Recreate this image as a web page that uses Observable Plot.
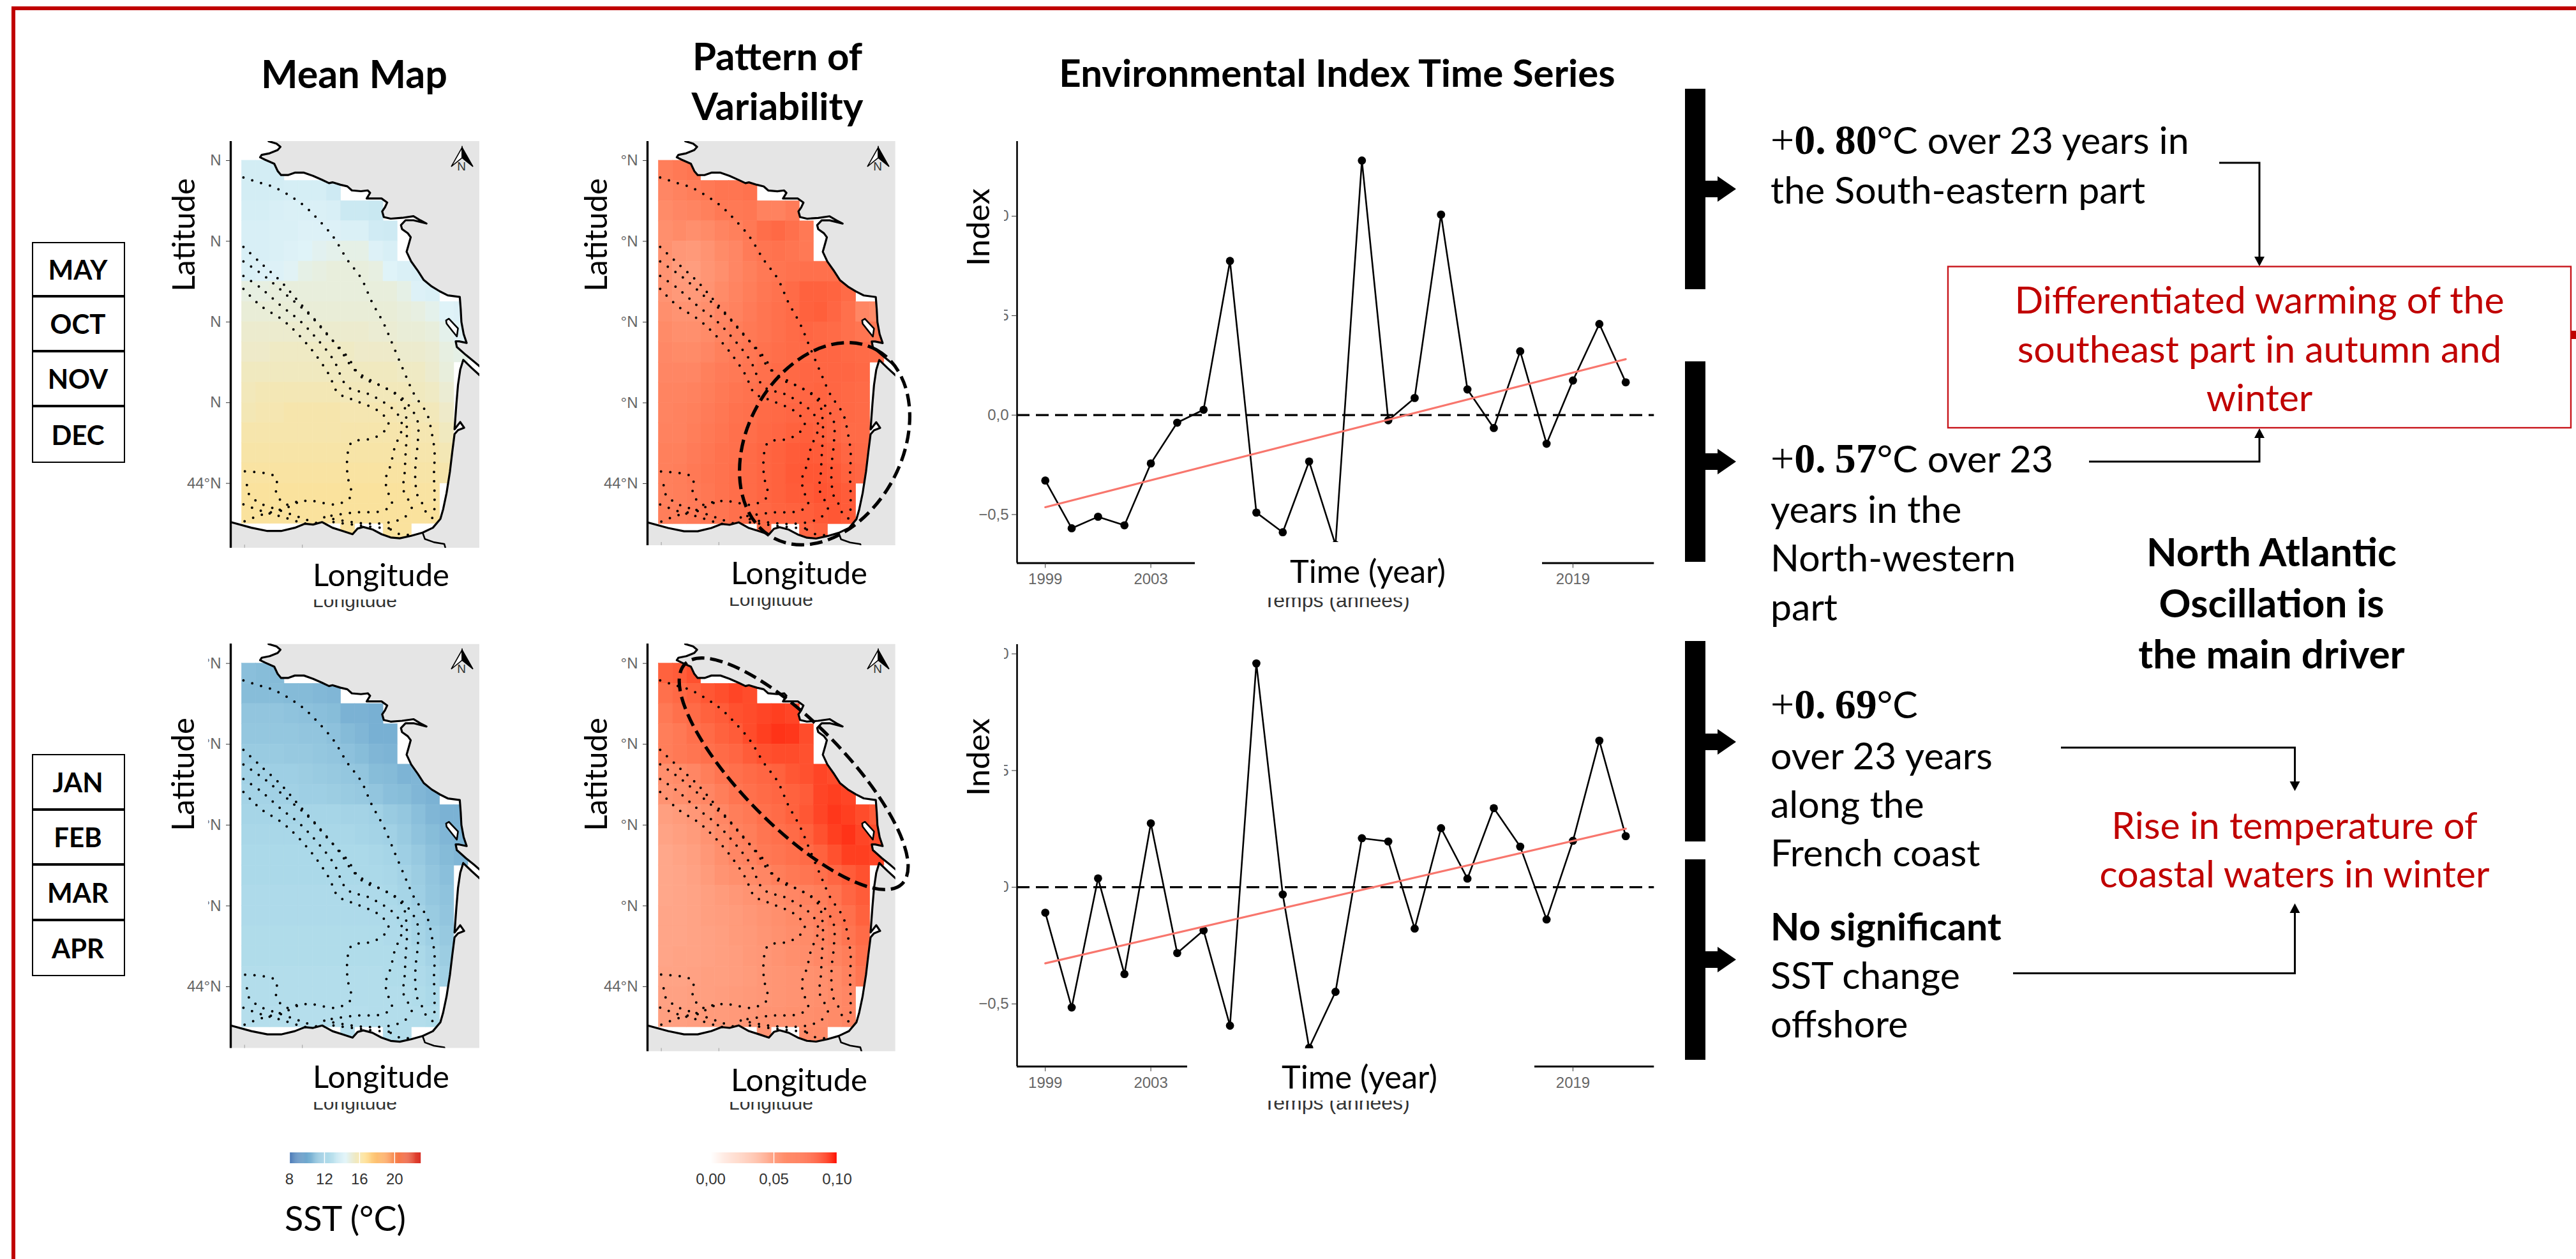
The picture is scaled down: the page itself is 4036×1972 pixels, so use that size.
<!DOCTYPE html>
<html><head><meta charset="utf-8">
<script src="https://cdn.jsdelivr.net/npm/d3@7"></script>
<script src="https://cdn.jsdelivr.net/npm/@observablehq/plot@0.6"></script>
<style>
html,body{margin:0;padding:0;background:#fff}
#page{position:relative;width:4036px;height:1972px;overflow:hidden;background:#fff;font-family:Lato,sans-serif;color:#000}
#page>svg{position:absolute;overflow:visible}
.t{position:absolute;white-space:nowrap;line-height:1}
.c{position:absolute;background:#fff}
</style></head><body><div id="page"></div>
<script>
// ---------- DATA ----------
const years=[1999,2000,2001,2002,2003,2004,2005,2006,2007,2008,2009,2010,2011,2012,2013,2014,2015,2016,2017,2018,2019,2020,2021];
const indexAutumn=[-0.329,-0.569,-0.511,-0.554,-0.243,-0.038,0.027,0.775,-0.490,-0.589,-0.233,-0.652,1.280,-0.026,0.086,1.008,0.129,-0.065,0.321,-0.144,0.174,0.458,0.165];
const indexWinter=[-0.109,-0.515,0.038,-0.372,0.274,-0.282,-0.185,-0.593,0.959,-0.031,-0.688,-0.448,0.210,0.196,-0.177,0.253,0.037,0.339,0.174,-0.138,0.199,0.628,0.219];
const trendYears=[1999,2021];
const trendAutumn=[-0.463,0.281];
const trendWinter=[-0.326,0.251];
const yearTicks=[1999,2003,2019];

const sstAutumn=[
[13.9,13.9,13.8],
[13.9,13.9,13.9,14,14,14,13.7],
[14,14,14.1,14.2,14.2,14.2,14.1,13.6,13.6,13.5],
[14.1,14.1,14.2,14.2,14.3,14.3,14.3,14.2,14.2,13.8,13.7],
[14.1,14.1,14.2,14.3,14.4,14.6,14.7,14.8,14.8,14.3,14.1],
[14.2,14.3,14.3,14.5,14.8,14.9,15,15,15,14.9,14.4,14.2,14.1],
[14.9,14.9,15,15,15,15,15,15,15,15,15,14.8,14.3,14.2],
[15.1,15.1,15.1,15.1,15.1,15.1,15.1,15.1,15.1,15.1,15.1,15,14.9,14.7,14.4,14.3],
[15.3,15.3,15.3,15.3,15.3,15.3,15.3,15.3,15.3,15.2,15.2,15.1,15.1,15,14.7,14.5],
[15.4,15.4,15.5,15.5,15.5,15.5,15.5,15.5,15.4,15.4,15.4,15.3,15.3,15.2,14.9,14.8],
[15.6,15.6,15.6,15.6,15.6,15.6,15.6,15.6,15.6,15.6,15.6,15.5,15.5,15.3,15],
[15.7,15.8,15.8,15.8,15.8,15.8,15.8,15.7,15.7,15.7,15.7,15.7,15.6,15.5,15.2],
[15.8,15.9,15.9,16,16,16,16,15.9,15.9,15.9,15.9,15.8,15.8,15.7,15.4],
[16,16,16,16,16,16,16,16,16,16,16,16,15.9,15.9,15.6],
[16.1,16.1,16.1,16.1,16.1,16.1,16.1,16.1,16.1,16.1,16.1,16.1,16,16,15.8],
[16.2,16.2,16.2,16.2,16.2,16.2,16.2,16.2,16.2,16.2,16.2,16.2,16.1,16.1,16],
[16.3,16.3,16.3,16.3,16.3,16.3,16.3,16.3,16.3,16.3,16.3,16.3,16.2,16.2],
[16.3,16.3,16.3,16.3,16.3,16.3,16.3,16.3,16.3,16.3,16.3,16.3,16.3,16.3],
[null,null,null,null,null,null,null,16.3,null,null,16.3,16.3]
];
const sstWinter=[
[11,10.9,10.8],
[10.9,10.9,10.9,10.8,10.8,10.7,10.6],
[11.3,11.3,11.3,11.2,11.1,11,10.9,10.4,10.4,10.3],
[11.4,11.4,11.4,11.4,11.3,11.3,11.1,10.8,10.6,10.3,10.3],
[11.6,11.6,11.6,11.5,11.5,11.4,11.3,11.1,10.9,10.6,10.5],
[11.9,11.9,11.8,11.8,11.7,11.6,11.5,11.4,11.3,10.9,10.8,10.5,10.6],
[12,12,11.9,11.9,11.8,11.8,11.7,11.6,11.5,11.3,11,10.9,10.6,10.4],
[12.1,12.1,12.1,12.1,12.1,12.1,12.1,12,12,11.9,11.6,11.4,11,10.6,10.4,10.4],
[12.2,12.2,12.2,12.2,12.2,12.2,12.2,12.2,12.1,12,11.9,11.6,11.2,10.9,10.6,10.5],
[12.3,12.3,12.3,12.3,12.3,12.3,12.3,12.3,12.3,12.2,12.1,11.8,11.5,11.1,10.8,10.6],
[12.3,12.3,12.3,12.3,12.3,12.3,12.3,12.3,12.3,12.3,12.2,12,11.7,11.3,11],
[12.4,12.4,12.4,12.4,12.4,12.4,12.4,12.4,12.4,12.4,12.3,12.1,11.8,11.4,11.2],
[12.4,12.4,12.4,12.4,12.4,12.4,12.4,12.4,12.4,12.4,12.4,12.3,12,11.6,11.3],
[12.5,12.5,12.5,12.5,12.5,12.5,12.5,12.5,12.5,12.5,12.4,12.4,12.1,11.8,11.5],
[12.5,12.5,12.5,12.5,12.5,12.5,12.5,12.5,12.5,12.5,12.5,12.4,12.3,12,11.7],
[12.6,12.6,12.6,12.6,12.6,12.6,12.6,12.6,12.6,12.6,12.5,12.5,12.4,12.2,11.9],
[12.6,12.6,12.6,12.6,12.6,12.6,12.6,12.6,12.6,12.6,12.6,12.6,12.5,12.3],
[12.7,12.7,12.7,12.7,12.7,12.7,12.7,12.7,12.7,12.6,12.6,12.6,12.6,12.5],
[null,null,null,null,null,null,null,12.7,null,null,12.6,12.6]
];
const varAutumn=[
[.066,.068,.070],
[.062,.064,.066,.068,.070,.070,.071],
[.060,.062,.063,.065,.068,.068,.069,.064,.064,.067],
[.058,.060,.058,.060,.063,.065,.068,.073,.075,.072,.068],
[.057,.054,.053,.056,.060,.062,.067,.070,.071,.070,.068],
[.056,.052,.051,.055,.058,.062,.065,.068,.070,.071,.072,.072,.072],
[.056,.053,.053,.056,.060,.063,.066,.069,.071,.074,.078,.078,.077,.074],
[.058,.056,.056,.058,.062,.064,.067,.070,.072,.074,.078,.079,.076,.072,.062,.060],
[.060,.058,.058,.060,.063,.066,.068,.070,.072,.074,.076,.075,.074,.072,.070,.068],
[.061,.060,.060,.062,.065,.067,.069,.071,.073,.074,.075,.076,.076,.075,.074,.074],
[.062,.062,.062,.065,.067,.068,.070,.072,.074,.075,.076,.076,.076,.076,.075],
[.063,.063,.064,.066,.068,.070,.071,.073,.074,.075,.076,.077,.076,.075,.074],
[.063,.064,.065,.067,.069,.071,.072,.074,.075,.076,.077,.077,.076,.075,.074],
[.064,.064,.066,.068,.070,.072,.073,.075,.076,.078,.079,.078,.076,.074,.074],
[.065,.065,.067,.069,.071,.072,.074,.076,.078,.080,.081,.080,.079,.076,.075],
[.065,.066,.068,.070,.071,.073,.074,.076,.078,.081,.082,.082,.081,.078,.076],
[.065,.066,.067,.069,.071,.073,.074,.076,.078,.080,.081,.083,.082,.080],
[.066,.066,.067,.069,.070,.072,.073,.075,.077,.078,.079,.081,.082,.080],
[null,null,null,null,null,null,null,.074,null,null,.076,.078]
];
const varWinter=[
[.078,.080,.084],
[.072,.075,.078,.082,.085,.088,.086],
[.068,.072,.074,.078,.080,.084,.086,.088,.090,.088],
[.066,.068,.072,.074,.078,.080,.086,.090,.093,.092,.086],
[.066,.068,.070,.072,.074,.076,.080,.084,.086,.086,.084],
[.058,.060,.062,.066,.070,.072,.074,.076,.078,.082,.084,.088,.086],
[.056,.058,.060,.062,.066,.070,.072,.074,.076,.078,.080,.088,.090,.088],
[.050,.052,.054,.058,.062,.066,.068,.072,.074,.078,.082,.088,.092,.090,.086,.080],
[.048,.050,.052,.056,.060,.064,.066,.070,.072,.074,.078,.084,.090,.093,.088,.086],
[.046,.048,.050,.054,.058,.062,.064,.068,.070,.072,.074,.078,.084,.090,.090,.088],
[.046,.047,.049,.052,.056,.058,.060,.062,.066,.068,.070,.072,.076,.080,.084],
[.046,.047,.048,.050,.052,.054,.056,.058,.060,.062,.064,.066,.070,.076,.080],
[.047,.047,.048,.050,.051,.052,.054,.056,.058,.060,.062,.064,.068,.072,.078],
[.047,.047,.048,.049,.050,.052,.053,.055,.057,.059,.060,.063,.065,.070,.074],
[.047,.048,.048,.049,.050,.051,.053,.054,.056,.058,.059,.061,.063,.066,.072],
[.048,.048,.049,.050,.050,.051,.052,.054,.055,.056,.057,.058,.060,.064,.070],
[.049,.049,.050,.050,.051,.052,.053,.054,.055,.056,.057,.058,.060,.062],
[.050,.050,.051,.052,.052,.053,.054,.056,.056,.057,.058,.059,.060,.062],
[null,null,null,null,null,null,null,.056,null,null,.060,.060]
];
const cellLonStart=-5.047, cellLonStep=0.245, cellLatStart=48, cellLatStep=0.25;

const northCoast=[[-4.585,48.24],[-4.447,48.21],[-4.379,48.17],[-4.427,48.13],[-4.565,48.09],[-4.704,48.07],[-4.731,48.04],[-4.644,48.01],[-4.486,47.96],[-4.427,47.87],[-4.368,47.82],[-4.249,47.82],[-4.13,47.85],[-3.972,47.85],[-3.814,47.81],[-3.656,47.76],[-3.538,47.72],[-3.478,47.73],[-3.34,47.70],[-3.221,47.68],[-3.142,47.63],[-2.984,47.62],[-2.866,47.63],[-2.826,47.60],[-2.885,47.53],[-2.787,47.53],[-2.628,47.53],[-2.53,47.48],[-2.569,47.42],[-2.617,47.37],[-2.589,47.30],[-2.47,47.28],[-2.273,47.29],[-2.075,47.31],[-1.957,47.26],[-1.85,47.22],[-2.075,47.26],[-2.213,47.26],[-2.292,47.20],[-2.273,47.15],[-2.174,47.10],[-2.123,47.05],[-2.154,46.97],[-2.194,46.87],[-2.115,46.75],[-1.996,46.63],[-1.897,46.52],[-1.759,46.44],[-1.621,46.38],[-1.482,46.33],[-1.273,46.31],[-1.257,46.16],[-1.245,46.00],[-1.206,45.85],[-1.154,45.74],[-1.285,45.76],[-1.344,45.76],[-1.324,45.69],[-1.166,45.59],[-1.028,45.51],[-0.929,45.45]];
const southCoast=[[-0.929,45.34],[-1.067,45.43],[-1.213,45.53],[-1.265,45.41],[-1.304,45.22],[-1.332,44.98],[-1.364,44.67],[-1.265,44.76],[-1.198,44.69],[-1.304,44.66],[-1.364,44.61],[-1.403,44.39],[-1.443,44.15],[-1.502,43.88],[-1.561,43.68],[-1.609,43.56],[-1.739,43.45],[-1.917,43.39],[-2.115,43.35],[-2.312,43.32],[-2.47,43.33],[-2.628,43.37],[-2.787,43.43],[-2.945,43.46],[-3.043,43.44],[-3.13,43.37],[-3.30,43.41],[-3.478,43.45],[-3.656,43.52],[-3.814,43.49],[-3.953,43.50],[-4.13,43.45],[-4.368,43.41],[-4.605,43.41],[-4.881,43.45],[-5.24,43.52]];
const northLandClosure=[[-0.929,48.24]];
const southLandClosure=[[-5.24,43.19],[-0.929,43.19]];
const border=[[-1.917,43.39],[-1.877,43.31],[-1.719,43.27],[-1.542,43.25],[-1.522,43.2]];
const island=[[-1.51,46.02],[-1.462,46.04],[-1.304,45.92],[-1.324,45.82],[-1.403,45.89],[-1.502,45.98],[-1.51,46.02]];
const isobaths=[
[[-5.02,47.79],[-4.76,47.73],[-4.49,47.67],[-4.21,47.56],[-3.97,47.44],[-3.74,47.28],[-3.46,47.05],[-3.22,46.77],[-2.98,46.54],[-2.79,46.24],[-2.59,45.98],[-2.43,45.71],[-2.23,45.37],[-2.06,45.10],[-1.84,44.86],[-1.76,44.63],[-1.71,44.39],[-1.72,44.11],[-1.71,43.84],[-1.72,43.64],[-1.78,43.52]],
[[-5.02,46.93],[-4.72,46.73],[-4.37,46.50],[-4.05,46.24],[-3.70,45.96],[-3.34,45.65],[-3.10,45.41],[-2.67,45.22],[-2.31,45.08],[-2.11,44.92],[-2.00,44.76],[-2.00,44.51],[-2.04,44.23],[-2.04,44.00],[-2.00,43.84],[-1.88,43.70],[-1.86,43.60]],
[[-5.02,46.75],[-4.64,46.56],[-4.25,46.32],[-3.89,46.10],[-3.58,45.85],[-3.22,45.57],[-2.98,45.32],[-2.55,45.18],[-2.27,45.02],[-2.19,44.69],[-2.21,44.39],[-2.23,44.11],[-2.25,43.92],[-2.11,43.72],[-2.11,43.64]],
[[-5.02,46.57],[-4.72,46.42],[-4.37,46.20],[-4.05,46.02],[-3.77,45.81],[-3.46,45.53],[-3.22,45.20],[-2.83,45.10],[-2.43,44.92],[-2.29,44.78],[-2.29,44.63],[-2.39,44.47],[-2.47,44.23],[-2.56,44.04],[-2.51,43.88],[-2.45,43.74],[-2.61,43.66],[-3.10,43.64],[-3.58,43.59]],
[[-5.02,46.41],[-4.72,46.20],[-4.37,46.04],[-4.13,45.89],[-3.81,45.63],[-3.54,45.35],[-3.38,45.12],[-3.06,45.02],[-2.69,44.90],[-2.51,44.76],[-2.55,44.67],[-2.77,44.56],[-3.14,44.51],[-3.21,44.39],[-3.22,44.11],[-3.16,43.84],[-3.42,43.74],[-3.81,43.78],[-4.05,43.78],[-4.29,43.74],[-4.45,43.88],[-4.45,44.07],[-4.60,44.12],[-5.02,44.15]],
[[-4.96,43.98],[-4.92,43.86],[-4.72,43.75],[-4.45,43.68],[-4.13,43.60],[-3.89,43.54],[-3.62,43.48]],
[[-5.02,43.74],[-4.72,43.66],[-4.37,43.59],[-4.05,43.52],[-3.81,43.48]],
[[-5.00,43.53],[-4.75,43.60],[-4.45,43.66],[-4.2,43.72],[-4.05,43.78]],
[[-3.62,43.58],[-3.14,43.52],[-2.75,43.50],[-2.35,43.54],[-2.11,43.64]],
[[-3.46,43.52],[-3.02,43.48],[-2.63,43.45],[-2.39,43.44]],
[[-2.47,43.43],[-2.27,43.36],[-2.11,43.37]]
];
const latTicks=[44,45,46,47,48];
const lonTicks=[-5,-4];
const sstTicks=[8,12,16,20];
const varTicks=[0,0.05,0.1];
const sstStops=[8,10.14,12.29,14.43,16.57,18.71,20.86,23];
const sstColors=["#4575b4","#74add1","#abd9e9","#e0f3f8","#fee090","#fdae61","#f46d43","#d73027"];
const monthsAutumn=["MAY","OCT","NOV","DEC"];
const monthsWinter=["JAN","FEB","MAR","APR"];

// ---------- HELPERS ----------
const page=document.getElementById("page");
const comma=(f)=>(d)=>d3.format(f)(d).replace(".",",");
function put(svg,x,y){svg.style.left=x+"px";svg.style.top=y+"px";svg.style.background="transparent";page.appendChild(svg);return svg;}
function T(html,x,y,o={}){
  const d=document.createElement("div");d.className="t";d.innerHTML=html;
  const a=o.anchor||"middle";
  d.style.left=x+"px";d.style.top=y+"px";
  d.style.fontSize=(o.size||48)+"px";
  if(o.bold)d.style.fontWeight="700";
  if(o.color)d.style.color=o.color;
  if(o.font)d.style.fontFamily=o.font;
  const tx=a==="middle"?"-50%":"0";
  d.style.transform=`translate(${tx},-50%)`+(o.rotate?` rotate(${o.rotate}deg)`:"")+(o.sx?` scaleX(${o.sx})`:"");
  page.appendChild(d);return d;
}
function cover(x,y,w,h){const d=document.createElement("div");d.className="c";
  d.style.cssText+=`left:${x}px;top:${y}px;width:${w}px;height:${h}px`;page.appendChild(d);}
const pts=(a)=>a.map(([lon,lat])=>({lon,lat}));

function mapPanel(f){
  const ml=110,mt=10,mr=6,mb=6;
  const cells=[];
  f.values.forEach((row,r)=>row.forEach((v,c)=>{ if(v!==null) cells.push({
    x1:cellLonStart+c*cellLonStep,x2:cellLonStart+(c+1)*cellLonStep,
    y1:cellLatStart-r*cellLatStep,y2:cellLatStart-(r+1)*cellLatStep,v});}));
  const common={x:"lon",y:"lat",clip:true};
  const svg=Plot.plot({
    width:f.w+ml+mr,height:f.h+mt+mb,marginLeft:ml,marginTop:mt,marginRight:mr,marginBottom:mb,
    style:{fontFamily:"Liberation Sans",background:"transparent"},
    x:{domain:[-5.24,-0.929],axis:null},
    y:{domain:f.yDomain,axis:null},
    color:f.color,
    marks:[
      Plot.rect(cells,{x1:"x1",x2:"x2",y1:"y1",y2:"y2",fill:"v",stroke:"v",strokeWidth:0.6,clip:true}),
      Plot.line(pts([...northCoast,...northLandClosure,northCoast[0]]),{...common,fill:"#e5e5e5",stroke:"none"}),
      Plot.line(pts([...southCoast,...southLandClosure,southCoast[0]]),{...common,fill:"#e5e5e5",stroke:"none"}),
      Plot.line(pts(northCoast),{...common,stroke:"#000",strokeWidth:3.2}),
      Plot.line(pts(southCoast),{...common,stroke:"#000",strokeWidth:3.2}),
      Plot.line(pts(border),{...common,stroke:"#000",strokeWidth:2.6}),
      Plot.line(pts(island),{...common,fill:"#fff",stroke:"#000",strokeWidth:2.6}),
      ...isobaths.map(iso=>Plot.line(pts(iso),{...common,stroke:"#000",strokeWidth:4,strokeDasharray:"0 14.5",strokeLinecap:"round",curve:"catmull-rom"})),
      Plot.ruleX(lonTicks,{y1:f.yDomain[0],y2:f.yDomain[0]+0.04,stroke:"#aaa",strokeWidth:1.2}),
      Plot.ruleX([-5.24],{stroke:"#000",strokeWidth:3.4}),
      Plot.axisY({ticks:latTicks,tickFormat:d=>d+"°N",tickSize:7,tickPadding:8,fontSize:24,label:null,anchor:"left",stroke:"#333",fill:"#666"})
    ]
  });
  put(svg,f.x-ml,f.y-mt);
}
function seriesPanel(f){
  const ml=110,mt=6,mr=4,mb=44;
  const data=years.map((year,i)=>({year,value:f.values[i]}));
  const trend=trendYears.map((year,i)=>({year,value:f.trend[i]}));
  const svg=Plot.plot({
    width:f.w+ml+mr,height:f.h+mt+mb,marginLeft:ml,marginTop:mt,marginRight:mr,marginBottom:mb,
    style:{fontFamily:"Liberation Sans",background:"transparent"},
    x:{domain:[1997.93,2022.08],axis:null},
    y:{domain:f.yDomain,axis:null},
    marks:[
      Plot.ruleY([0],{stroke:"#000",strokeWidth:3.2,strokeDasharray:"20 10"}),
      Plot.line(data,{x:"year",y:"value",stroke:"#000",strokeWidth:2.6}),
      Plot.dot(data,{x:"year",y:"value",r:6.4,fill:"#000"}),
      Plot.line(trend,{x:"year",y:"value",stroke:"#f8766d",strokeWidth:3.2}),
      Plot.ruleX([1997.93],{stroke:"#000",strokeWidth:2.6}),
      Plot.ruleY([f.yDomain[0]],{stroke:"#000",strokeWidth:3}),
      Plot.axisY({ticks:[-0.5,0,0.5,1],tickFormat:comma(".1f"),tickSize:8,tickPadding:5,fontSize:24,label:null,anchor:"left",stroke:"#333",fill:"#666"}),
      Plot.axisX({ticks:yearTicks,tickFormat:String,tickSize:8,tickPadding:8,fontSize:24,label:null,anchor:"bottom",stroke:"#333",fill:"#666"})
    ]
  });
  put(svg,f.x-ml,f.y-mt);
}
function legendBar(f){
  const ml=40,mr=40,mt=2,mb=44;
  const step=(f.domain[1]-f.domain[0])/200;
  const ramp=d3.range(f.domain[0],f.domain[1],step);
  const svg=Plot.plot({
    width:f.w+ml+mr,height:f.h+mt+mb,marginLeft:ml,marginRight:mr,marginTop:mt,marginBottom:mb,
    style:{fontFamily:"Liberation Sans",background:"transparent"},
    x:{domain:f.domain,axis:null},
    y:{domain:[0,1],axis:null},
    color:f.color,
    marks:[
      Plot.rect(ramp,{x1:d=>d,x2:d=>d+step*1.2,y1:0,y2:1,fill:d=>d}),
      Plot.ruleX(f.ticks,{stroke:"#fff",strokeWidth:1.4}),
      Plot.axisX({ticks:f.ticks,tickFormat:f.format,tickSize:0,tickPadding:15,fontSize:24,label:null,anchor:"bottom",fill:"#333"})
    ]
  });
  put(svg,f.x-ml,f.y-mt);
}

// ---------- CHARTS ----------
const sstScale={type:"linear",domain:sstStops,range:sstColors};
const varScale={type:"linear",domain:[0,0.1],range:["#ffffff","#ff0000"],interpolate:"lab"};
mapPanel({x:361,y:221,w:390,h:637,yDomain:[43.198,48.237],values:sstAutumn,color:sstScale});
mapPanel({x:1014,y:221,w:388.7,h:633,yDomain:[43.233,48.237],values:varAutumn,color:varScale});
mapPanel({x:361,y:1008,w:390,h:633.6,yDomain:[43.237,48.242],values:sstWinter,color:sstScale});
mapPanel({x:1014,y:1008,w:388.7,h:638.6,yDomain:[43.197,48.242],values:varWinter,color:varScale});
seriesPanel({x:1592.7,y:221,w:998.3,h:660.5,yDomain:[-0.744,1.376],values:indexAutumn,trend:trendAutumn});
seriesPanel({x:1592.7,y:1009,w:998.3,h:661,yDomain:[-0.768,1.04],values:indexWinter,trend:trendWinter});
legendBar({x:453,y:1805,w:206,h:17,domain:[8,23],ticks:sstTicks,format:String,color:sstScale});
legendBar({x:1113,y:1805,w:198,h:17,domain:[0,0.1],ticks:varTicks,format:comma(".2f"),color:varScale});

// original axis titles, half hidden below the white label patches
const ghost={font:"Liberation Sans",size:30,color:"#333"};
T("Longitude",556,941,ghost);T("Longitude",1208,939,ghost);T("Longitude",556,1728,ghost);T("Longitude",1208,1728,ghost);
const ghost2={font:"Liberation Sans",size:32,color:"#333"};
T("Temps (années)",2094,940,ghost2);T("Temps (années)",2094,1727,ghost2);

// white patches
cover(270,225,61,465);cover(920,225,52.5,465);cover(270,1012,55.7,468);cover(920,1012,52,468);
cover(1500,225,73,395);cover(1500,1000,73,500);
cover(440,860,320,79);cover(1100,858,300,78);cover(440,1644,320,82);cover(1100,1648,300,78);
cover(1872,849,544,87);cover(1859.5,1642,544.5,82);

// ---------- TEXT ----------
const ax={size:49};
[[286,368],[932,368],[285,1213],[932,1213]].forEach(([x,y])=>T("Latitude",x,y,{...ax,rotate:-90}));
[[597,899],[1252,896],[597,1685],[1252,1690]].forEach(([x,y])=>T("Longitude",x,y,ax));
T("Index",1531,356,{...ax,rotate:-90,sx:1.03});T("Index",1531,1186,{...ax,rotate:-90,sx:1.03});
T("Time (year)",2143,894,{size:50.5});T("Time (year)",2130,1686,{size:50.5});
T("SST (°C)",541,1908,{size:54});

const H={size:60,bold:true};
T("Mean Map",555,114,{size:61,bold:true});T("Pattern of",1218,87,H);T("Variability",1218,165,H);
T("Environmental Index Time Series",2095,113,H);

function monthBox(names,ys){
  names.forEach((m,i)=>{
    const d=document.createElement("div");
    d.style.cssText=`position:absolute;left:49.5px;top:${ys[i]}px;width:142px;height:${ys[i+1]-ys[i]-4}px;border:2.5px solid #000;background:#fff`;
    page.appendChild(d);
    T(m,122,(ys[i]+ys[i+1])/2,{size:42,bold:true});
  });
}
monthBox(monthsAutumn,[379,464,550,636,725]);
monthBox(monthsWinter,[1181,1268,1354,1441,1529]);

const num=(a,b)=>`<span style="font-family:'Liberation Serif';font-size:66px">+<b>${a}.<span style="margin-left:14px">${b}</span></b></span>°C`;
const L={size:59,anchor:"start"};
T(num(0,"80")+" over 23 years in",2774,219,L);T("the South-eastern part",2774,296,L);
T(num(0,"57")+" over 23",2774,718,L);T("years in the",2774,796,L);T("North-western",2774,872,L);T("part",2774,949,L);
T(num(0,"69"),2774,1103,L);T("over 23 years",2774,1182,L);T("along the",2774,1258,L);T("French coast",2774,1334,L);
T("No significant",2774,1450,{...L,bold:true});T("SST change",2774,1526,L);T("offshore",2774,1602,L);

const B={size:62,bold:true};
T("North Atlantic",3559,863,B);T("Oscillation is",3559,943,B);T("the main driver",3559,1023,B);

const R={size:59,color:"#c00000"};
T("Differentiated warming of the",3540,468,R);T("southeast part in autumn and",3540,545,R);T("winter",3540,621,R);
T("Rise in temperature of",3595,1291,R);T("coastal waters in winter",3595,1367,R);

// ---------- DECORATION ----------
const north=(x,y)=>`<g transform="translate(${x},${y})"><path d="M0 0L-17 30L0 16Z" fill="#fff" stroke="#000" stroke-width="1.6"/><path d="M0 0L17 30L0 16Z" fill="#000" stroke="#000" stroke-width="1.6"/><text x="-1" y="36" font-size="19" text-anchor="middle" font-family="Liberation Sans" fill="#333">N</text></g>`;
const bar=(y1,y2,ya)=>`<rect x="2640" y="${y1}" width="32" height="${y2-y1}"/><path d="M2672 ${ya-13}H2691V${ya-20}L2720 ${ya}L2691 ${ya+20}V${ya+13}H2672Z"/>`;
const conn=(d,hx,hy,dir)=>`<path d="${d}" fill="none" stroke="#000" stroke-width="3"/><path d="M${hx} ${hy}L${hx-8} ${hy-dir*15}H${hx+8}Z"/>`;
const ellipse=(cx,cy,rx,ry,a,w)=>`<ellipse cx="${cx}" cy="${cy}" rx="${rx}" ry="${ry}" transform="rotate(${a} ${cx} ${cy})" fill="none" stroke="#000" stroke-width="${w}" stroke-dasharray="20 9"/>`;
const over=document.createElementNS("http://www.w3.org/2000/svg","svg");
over.setAttribute("width",4036);over.setAttribute("height",1972);
over.style.left="0";over.style.top="0";
over.innerHTML=
  north(724,231)+north(1376,231)+north(724,1018)+north(1376,1018)+
  ellipse(1292,695,168,121,-61.2,5.2)+ellipse(1243.5,1212,242,80.5,45.4,5.2)+
  bar(139,453,296)+bar(566,880,723)+bar(1004,1318,1162)+bar(1346,1660,1503)+
  conn("M3477 255H3540V403",3540,417,1)+
  conn("M3273 723H3540V685",3540,671,-1)+
  conn("M3229 1171H3595.5V1225",3595.5,1239,1)+
  conn("M3154 1524.5H3595.5V1429",3595.5,1415,-1)+
  `<rect x="3052" y="417.5" width="976" height="252.5" fill="none" stroke="#c8141a" stroke-width="2.4"/>`+
  `<rect x="4028" y="518" width="8" height="13" fill="#c00000"/>`+
  `<path d="M21 1972V13H4036" fill="none" stroke="#c00000" stroke-width="6"/>`;
page.appendChild(over);
</script></body></html>
